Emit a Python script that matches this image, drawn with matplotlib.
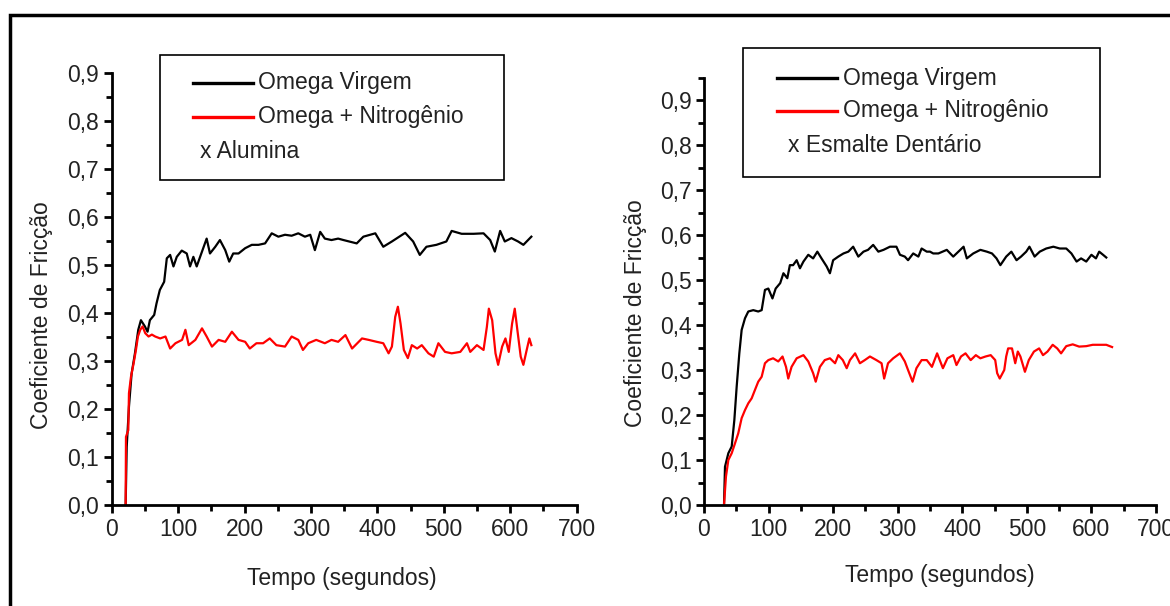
import matplotlib
matplotlib.use("Agg")
import matplotlib.pyplot as plt
from matplotlib import font_manager as fm
from matplotlib.ticker import MultipleLocator, FuncFormatter
from matplotlib.patches import Rectangle
from matplotlib.lines import Line2D

# ---------------- dados ----------------
# painel esquerdo : x Alumina
alu_virgem_t = [21, 22.6, 26, 30, 35, 40, 44, 50, 54, 57.5, 64, 67.5, 72.5, 79, 83, 88, 93, 98,
                105.5, 113, 118, 123, 128, 136, 143, 148, 156, 163, 171, 177, 183, 191, 201, 211,
                221, 231, 241, 251, 261, 271, 281, 291, 299, 306, 314, 321, 331, 341, 349, 369,
                379, 397, 409, 422, 442, 454, 464, 474, 489, 504, 512, 527, 545, 560, 570, 577,
                585, 592, 602, 612, 620, 632]
alu_virgem_mu = [0, 0.121, 0.205, 0.274, 0.316, 0.365, 0.385, 0.372, 0.361, 0.385, 0.396, 0.42,
                 0.448, 0.465, 0.514, 0.521, 0.497, 0.517, 0.53, 0.524, 0.497, 0.517, 0.497, 0.528,
                 0.555, 0.524, 0.538, 0.552, 0.531, 0.507, 0.524, 0.524, 0.535, 0.542, 0.542, 0.545,
                 0.566, 0.559, 0.563, 0.561, 0.566, 0.559, 0.563, 0.531, 0.569, 0.555, 0.552, 0.555,
                 0.552, 0.545, 0.559, 0.566, 0.538, 0.549, 0.567, 0.549, 0.521, 0.538, 0.542, 0.549,
                 0.571, 0.565, 0.565, 0.566, 0.552, 0.528, 0.571, 0.549, 0.556, 0.549, 0.542, 0.559]

alu_nitro_t = [21, 21.5, 25, 26, 29, 33, 36.5, 39.5, 43, 46.5, 50.5, 55.5, 60.5, 65.5, 73, 81, 88,
               96, 106, 111, 116, 126, 136, 143, 151, 161, 171, 181, 191, 201, 208, 218, 228, 238,
               248, 261, 271, 281, 288, 296, 308, 321, 331, 341, 352, 362, 377, 387, 399, 409, 417,
               422, 427, 431, 435, 440, 446, 452, 460, 467, 477, 485, 492, 502, 512, 525, 535, 540,
               550, 560, 565, 568, 573, 578, 582, 588, 593, 598, 603, 607, 611, 616, 620, 625, 629,
               632]
alu_nitro_mu = [0, 0.142, 0.156, 0.233, 0.267, 0.295, 0.323, 0.351, 0.365, 0.372, 0.358, 0.351,
                0.355, 0.351, 0.347, 0.351, 0.326, 0.337, 0.344, 0.365, 0.333, 0.344, 0.368, 0.351,
                0.330, 0.344, 0.340, 0.361, 0.344, 0.340, 0.326, 0.337, 0.337, 0.347, 0.333, 0.330,
                0.351, 0.344, 0.323, 0.337, 0.344, 0.337, 0.344, 0.340, 0.354, 0.326, 0.347, 0.344,
                0.340, 0.337, 0.316, 0.330, 0.392, 0.413, 0.378, 0.323, 0.306, 0.333, 0.326, 0.333,
                0.316, 0.309, 0.337, 0.319, 0.316, 0.319, 0.337, 0.319, 0.333, 0.323, 0.371, 0.409,
                0.385, 0.316, 0.292, 0.330, 0.347, 0.319, 0.378, 0.409, 0.364, 0.309, 0.292, 0.323,
                0.347, 0.333]

# painel direito : x Esmalte Dentario
esm_virgem_t = [31, 32.5, 37.7, 42.9, 47, 50.6, 54.7, 58.3, 63.5, 68.6, 76.3, 84, 89.3, 94.4, 99.6,
                106, 111, 118, 123, 129, 133, 138, 143.5, 148.6, 154, 161.5, 169, 175.5, 182, 190,
                195, 200, 208, 216, 223.5, 231, 239, 247, 254, 262, 270, 278, 288, 298, 303.5, 311,
                316, 324, 332, 337, 345, 350, 355, 363, 376, 386, 394, 402, 407, 417, 428, 438, 446,
                453, 459, 468, 476, 484, 491, 499, 504, 512, 520, 530, 541, 551, 561, 569, 577, 584,
                592, 600, 607, 612, 618, 623]
esm_virgem_mu = [0, 0.085, 0.115, 0.130, 0.189, 0.263, 0.337, 0.389, 0.415, 0.430, 0.433, 0.430,
                 0.433, 0.478, 0.481, 0.459, 0.481, 0.493, 0.515, 0.504, 0.533, 0.533, 0.544, 0.526,
                 0.541, 0.556, 0.548, 0.563, 0.548, 0.530, 0.515, 0.544, 0.552, 0.559, 0.563, 0.574,
                 0.552, 0.563, 0.567, 0.578, 0.563, 0.567, 0.574, 0.574, 0.556, 0.552, 0.544, 0.559,
                 0.552, 0.570, 0.563, 0.563, 0.559, 0.559, 0.567, 0.552, 0.563, 0.574, 0.548, 0.559,
                 0.567, 0.563, 0.559, 0.548, 0.533, 0.552, 0.563, 0.544, 0.552, 0.563, 0.574, 0.552,
                 0.563, 0.570, 0.574, 0.570, 0.570, 0.559, 0.541, 0.548, 0.541, 0.556, 0.548, 0.563,
                 0.556, 0.550]

esm_nitro_t = [31, 34, 37.7, 42.9, 48, 53, 58.3, 63.5, 68.6, 73.8, 79, 84, 89.3, 94.4, 99.6, 107,
               115, 121.6, 127, 130.5, 135.6, 143.5, 154, 161.5, 169, 173, 179.5, 187, 195, 203,
               208, 215, 221, 226, 234, 241.5, 249, 257, 267, 275, 279, 285, 293, 303.5, 311, 316,
               323, 329, 337, 345, 353, 361, 370, 377, 386, 391, 398, 405, 413, 421, 428, 436, 444,
               451, 454, 458, 465, 468, 471, 477, 482, 486, 490, 497, 503, 511, 519, 525, 532, 540,
               547, 553, 561, 571, 581, 592, 602, 612, 623, 632]
esm_nitro_mu = [0, 0.063, 0.1, 0.115, 0.137, 0.159, 0.193, 0.211, 0.226, 0.237, 0.256, 0.274,
                0.285, 0.315, 0.322, 0.326, 0.319, 0.330, 0.307, 0.281, 0.307, 0.326, 0.333, 0.319,
                0.293, 0.274, 0.307, 0.322, 0.326, 0.315, 0.333, 0.322, 0.304, 0.322, 0.337, 0.315,
                0.322, 0.330, 0.322, 0.315, 0.281, 0.315, 0.326, 0.337, 0.319, 0.300, 0.274, 0.304,
                0.322, 0.322, 0.307, 0.337, 0.304, 0.326, 0.333, 0.311, 0.330, 0.337, 0.322, 0.333,
                0.326, 0.330, 0.333, 0.322, 0.293, 0.281, 0.300, 0.330, 0.348, 0.348, 0.315, 0.341,
                0.330, 0.296, 0.322, 0.341, 0.348, 0.333, 0.341, 0.356, 0.348, 0.337, 0.353, 0.357,
                0.352, 0.353, 0.356, 0.356, 0.356, 0.351]

legenda = ["Omega Virgem", "Omega + Nitrogênio"]
contra = ["x Alumina", "x Esmalte Dentário"]
xlabel = "Tempo (segundos)"
ylabel = "Coeficiente de Fricção"

# ---------------- fontes ----------------
nomes = {f.name for f in fm.fontManager.ttflist}
f_esq = "Liberation Sans"
if "Liberation Sans Narrow" in nomes:
    f_dir, sz_dir = "Liberation Sans Narrow", 19
else:
    f_dir, sz_dir = "Liberation Sans", 16.5
sz_esq = 16.5

W, H = 1170, 606
fig = plt.figure(figsize=(W / 100, H / 100), dpi=100)

def fx(px):  # pixel -> fracao da figura
    return px / W

def fy(py):
    return 1 - py / H

# moldura externa
fig.patches.append(Rectangle((fx(10), -0.2), 1.2, fy(15) + 0.2, transform=fig.transFigure,
                             fill=False, edgecolor="black", linewidth=2.5))

virgula = FuncFormatter(lambda v, p: ("%.1f" % v).replace(".", ","))

def painel(pos, tv, mv, tn, mn, ytop, fam, sz, xl_xy, yl_xy):
    ax = fig.add_axes(pos)
    ax.plot(tv, mv, color="black", lw=1.6)
    ax.plot(tn, mn, color="red", lw=1.6)
    ax.set_xlim(0, 700)
    ax.set_ylim(0, ytop)
    ax.spines["top"].set_visible(False)
    ax.spines["right"].set_visible(False)
    ax.spines["left"].set_linewidth(2)
    ax.spines["bottom"].set_linewidth(2)
    ax.xaxis.set_major_locator(MultipleLocator(100))
    ax.xaxis.set_minor_locator(MultipleLocator(50))
    ax.yaxis.set_major_locator(MultipleLocator(0.1))
    ax.yaxis.set_minor_locator(MultipleLocator(0.05))
    ax.yaxis.set_major_formatter(virgula)
    ax.tick_params(which="major", direction="out", length=6, width=2, pad=3)
    ax.tick_params(which="minor", direction="out", length=4, width=2)
    for lab in ax.get_xticklabels() + ax.get_yticklabels():
        lab.set_fontfamily(fam)
        lab.set_fontsize(sz)
        lab.set_color("#222222")
    ax.set_xlabel(xlabel, family=fam, fontsize=sz, va="center", color="#222222")
    ax.set_ylabel(ylabel, family=fam, fontsize=sz, va="center", color="#222222")
    ax.xaxis.set_label_coords(*xl_xy)
    ax.yaxis.set_label_coords(*yl_xy)
    return ax

ax1 = painel([fx(111.7), fy(505), 464.8 / W, 432 / H], alu_virgem_t, alu_virgem_mu,
             alu_nitro_t, alu_nitro_mu, 0.9, f_esq, sz_esq, (0.495, -0.169), (-0.152, 0.44))
ax2 = painel([fx(704), fy(505), 452 / W, 427.5 / H], esm_virgem_t, esm_virgem_mu,
             esm_nitro_t, esm_nitro_mu, 0.95, f_dir, sz_dir, (0.522, -0.166), (-0.152, 0.449))

# legendas (caixa desenhada a mao, como no original)
def caixa(x0, y0, x1, y1, lx0, lx1, tx, rows, xx, xtxt, fam, sz):
    fig.patches.append(Rectangle((fx(x0), fy(y1)), fx(x1) - fx(x0), fy(y0) - fy(y1),
                                 transform=fig.transFigure, fill=False,
                                 edgecolor="black", linewidth=1.2))
    for yy, cor, txt in zip(rows, ["black", "red"], legenda):
        fig.lines.append(Line2D([fx(lx0), fx(lx1)], [fy(yy), fy(yy)], color=cor, lw=2.4,
                                transform=fig.transFigure))
        fig.text(fx(tx), fy(yy), txt, family=fam, fontsize=sz, va="center", ha="left",
                 color="#222222")
    fig.text(fx(xx), fy(rows[2]), xtxt, family=fam, fontsize=sz, va="center", ha="left",
             color="#222222")

caixa(160, 55, 504, 180, 193, 253, 258, [83, 117, 152], 200, contra[0], f_esq, sz_esq)
caixa(743, 48, 1100, 177, 777, 837, 843, [78, 111, 145], 788, contra[1], f_dir, sz_dir)

fig.savefig("out.png", dpi=100)
